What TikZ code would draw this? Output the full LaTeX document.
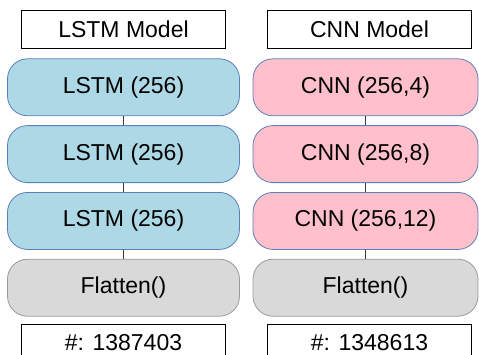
\documentclass[tikz,border=0pt]{standalone}
\usepackage{fontspec}
\setmainfont{Liberation Sans}
\usepackage{xcolor}
\usepackage{tikz}
\usetikzlibrary{positioning}

\definecolor{lstmfill}{HTML}{ADD8E6}
\definecolor{cnnfill}{HTML}{FFC0CB}
\definecolor{flatfill}{HTML}{D9D9D9}
\definecolor{layerline}{HTML}{5B7FB8}
\definecolor{flatline}{HTML}{9A9A9A}
\definecolor{linkgray}{HTML}{3A3A3A}

\begin{document}
\begin{tikzpicture}[x=1pt, y=1pt, node distance=9pt,
    model head/.style={rectangle, draw, line width=0.8pt, minimum width=204pt, minimum height=38pt, inner sep=0pt, font=\fontsize{23}{27}\selectfont},
    layer block/.style={rectangle, rounded corners=20pt, line width=0.8pt, minimum height=57pt, inner sep=0pt, font=\fontsize{23}{27}\selectfont},
    lstm layer/.style={layer block, draw=layerline, fill=lstmfill, minimum width=232pt},
    cnn layer/.style={layer block, draw=layerline, fill=cnnfill, minimum width=225pt},
    lstm flat/.style={layer block, draw=flatline, fill=flatfill, minimum width=232pt},
    cnn flat/.style={layer block, draw=flatline, fill=flatfill, minimum width=225pt},
    layer link/.style={draw=linkgray, line width=0.9pt}]

    \useasboundingbox (0,0) rectangle (479,-354);

    % LSTM column
    \node [model head] (lstmhead) at (123.5,-29) {LSTM Model};
    \node [lstm layer, below=10pt of lstmhead] (lstma) {LSTM (256)};
    \node [lstm layer, below=of lstma] (lstmb) {LSTM (256)};
    \node [lstm layer, below=of lstmb] (lstmc) {LSTM (256)};
    \node [lstm flat, below=of lstmc] (lstmflat) {Flatten()};
    \node [model head, below=7pt of lstmflat] (lstmcount) {\#: 1387403};

    % CNN column
    \node [model head] (cnnhead) at (369.5,-29) {CNN Model};
    \node [cnn layer, below=10pt of cnnhead, xshift=-4pt] (cnna) {CNN (256,4)};
    \node [cnn layer, below=of cnna] (cnnb) {CNN (256,8)};
    \node [cnn layer, below=of cnnb] (cnnc) {CNN (256,12)};
    \node [cnn flat, below=of cnnc] (cnnflat) {Flatten()};
    \node [model head, below=7pt of cnnflat, xshift=4pt] (cnncount) {\#: 1348613};

    \draw [layer link] (lstma) -- (lstmb);
    \draw [layer link] (lstmb) -- (lstmc);
    \draw [layer link] (lstmc) -- (lstmflat);
    \draw [layer link] (cnna) -- (cnnb);
    \draw [layer link] (cnnb) -- (cnnc);
    \draw [layer link] (cnnc) -- (cnnflat);
\end{tikzpicture}
\end{document}
